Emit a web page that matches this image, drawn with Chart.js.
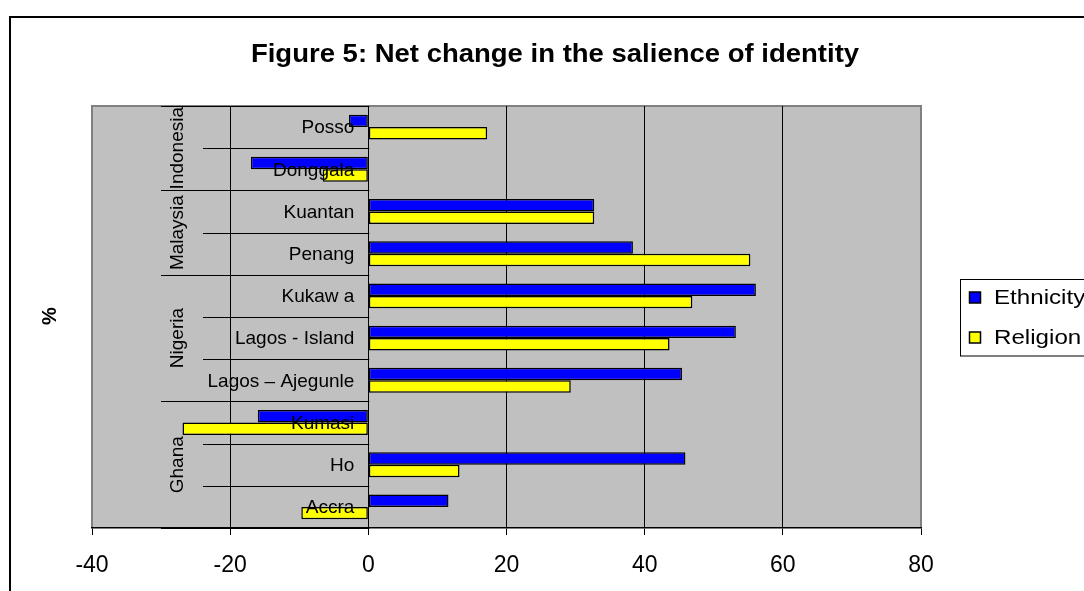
<!DOCTYPE html>
<html>
<head>
<meta charset="utf-8">
<script src="https://cdn.jsdelivr.net/npm/chart.js@4"></script>
<style>
html,body{margin:0;padding:0;background:#fff;overflow:hidden;}
#wrap{width:1084px;height:591px;position:relative;}
</style>
</head>
<body>
<div id="wrap"><canvas id="c" width="1084" height="591"></canvas></div>
<script>
const titleText = 'Figure 5: Net change in the salience of identity';
const axisTitle = '%';
const categories = ['Posso','Donggala','Kuantan','Penang','Kukaw a','Lagos - Island','Lagos \u2013 Ajegunle','Kumasi','Ho','Accra'];
const groups = ['Indonesia','Malaysia','Nigeria','Ghana'];
const groupSizes = [2,2,3,3];
const ethnicity = [-2.8, -17.0, 32.7, 38.3, 56.1, 53.2, 45.4, -16.0, 45.9, 11.6];
const religion = [17.2, -6.6, 32.7, 55.3, 46.9, 43.6, 29.3, -26.9, 13.2, -9.7];
const xMin = -40, xMax = 80, xStep = 20;
const seriesNames = ['Ethnicity','Religion'];
const seriesColors = ['#0000ff','#ffff00'];

const FONT = 'Arial, "Liberation Sans", sans-serif';

const decor = {
  id: 'decor',
  beforeDraw(chart) {
    const {ctx, chartArea: a} = chart;
    ctx.save();
    ctx.strokeStyle = '#000';
    ctx.lineWidth = 2;
    ctx.strokeRect(10, 17, 1200, 700);
    ctx.fillStyle = '#c0c0c0';
    ctx.fillRect(a.left, a.top, a.right - a.left, a.bottom - a.top);
    ctx.strokeStyle = '#808080';
    ctx.lineWidth = 2;
    ctx.beginPath();
    ctx.moveTo(a.left, a.bottom);
    ctx.lineTo(a.left, a.top);
    ctx.lineTo(a.right, a.top);
    ctx.lineTo(a.right, a.bottom);
    ctx.stroke();
    ctx.restore();
  },
  afterDraw(chart) {
    const {ctx} = chart;
    const xs = chart.scales.x, ys = chart.scales.y;
    const x0 = xs.getPixelForValue(0);
    ctx.save();
    const n = categories.length;
    const step = (ys.getPixelForValue(1) - ys.getPixelForValue(0));
    const boundary = i => ys.getPixelForValue(i) - step / 2;
    const groupStarts = new Set();
    let acc = 0;
    groupSizes.forEach(s => { groupStarts.add(acc); acc += s; });
    groupStarts.add(n);
    ctx.strokeStyle = '#000';
    ctx.lineWidth = 1;
    for (let i = 0; i <= n; i++) {
      const y = Math.round(boundary(i)) + 0.5;
      const xl = groupStarts.has(i) ? 161 : 203;
      ctx.beginPath();
      ctx.moveTo(xl, y);
      ctx.lineTo(x0 + 1, y);
      ctx.stroke();
    }
    ctx.fillStyle = '#000';
    ctx.font = '19px ' + FONT;
    ctx.textAlign = 'right';
    ctx.textBaseline = 'middle';
    categories.forEach((c, i) => {
      ctx.fillText(c, x0 - 14, ys.getPixelForValue(i) + 1);
    });
    acc = 0;
    groups.forEach((g, gi) => {
      const yc = (boundary(acc) + boundary(acc + groupSizes[gi])) / 2;
      ctx.save();
      ctx.translate(178, yc);
      ctx.rotate(-Math.PI / 2);
      ctx.textAlign = 'center';
      ctx.textBaseline = 'middle';
      ctx.font = '19px ' + FONT;
      ctx.fillText(g, 0, 0);
      ctx.restore();
      acc += groupSizes[gi];
    });
    ctx.save();
    ctx.translate(50, 316);
    ctx.rotate(-Math.PI / 2);
    ctx.font = 'bold 20px ' + FONT;
    ctx.textAlign = 'center';
    ctx.textBaseline = 'middle';
    ctx.fillText(axisTitle, 0, 0);
    ctx.restore();
    ctx.save();
    ctx.translate(555, 55);
    ctx.scale(1.1, 1);
    ctx.font = 'bold 25px ' + FONT;
    ctx.textAlign = 'center';
    ctx.textBaseline = 'middle';
    ctx.fillText(titleText, 0, 0);
    ctx.restore();
    ctx.fillStyle = '#fff';
    ctx.fillRect(960.5, 279.5, 200, 76.5);
    ctx.strokeStyle = '#000';
    ctx.lineWidth = 1;
    ctx.strokeRect(960.5, 279.5, 200, 76.5);
    const ly = [297.5, 337.5];
    seriesNames.forEach((s, i) => {
      ctx.fillStyle = seriesColors[i];
      ctx.fillRect(969.5, ly[i] - 5.5, 11, 11);
      ctx.strokeStyle = '#000';
      ctx.lineWidth = 1.5;
      ctx.strokeRect(969.5, ly[i] - 5.5, 11, 11);
      ctx.save();
      ctx.translate(994, ly[i] + 1);
      ctx.scale(1.15, 1);
      ctx.fillStyle = '#000';
      ctx.font = '21px ' + FONT;
      ctx.textAlign = 'left';
      ctx.textBaseline = 'middle';
      ctx.fillText(s, 0, 0);
      ctx.restore();
    });
    ctx.restore();
  }
};

new Chart(document.getElementById('c'), {
  type: 'bar',
  data: {
    labels: categories,
    datasets: [
      {label: seriesNames[0], data: ethnicity, backgroundColor: seriesColors[0]},
      {label: seriesNames[1], data: religion, backgroundColor: seriesColors[1]}
    ]
  },
  options: {
    indexAxis: 'y',
    responsive: false,
    animation: false,
    devicePixelRatio: 1,
    layout: {padding: {left: 92, right: 163, top: 106, bottom: 0}},
    datasets: {
      bar: {
        borderColor: '#000',
        borderWidth: 1.5,
        borderSkipped: false,
        categoryPercentage: 0.59,
        barPercentage: 1.0
      }
    },
    plugins: {
      legend: {display: false},
      title: {display: false},
      tooltip: {enabled: false}
    },
    scales: {
      x: {
        min: xMin, max: xMax,
        ticks: {
          stepSize: xStep,
          color: '#000',
          padding: 17,
          font: {family: FONT, size: 23}
        },
        grid: {
          color: c => (c.tick && (c.tick.value === xMin || c.tick.value === xMax)) ? 'rgba(0,0,0,0)' : '#000',
          tickColor: '#000',
          tickLength: 7,
          lineWidth: 1,
          drawOnChartArea: true
        },
        border: {display: true, color: '#000', width: 1.5},
        afterFit(scale) { scale.height = 63; }
      },
      y: {
        display: false
      }
    }
  },
  plugins: [decor]
});
</script>
</body>
</html>
